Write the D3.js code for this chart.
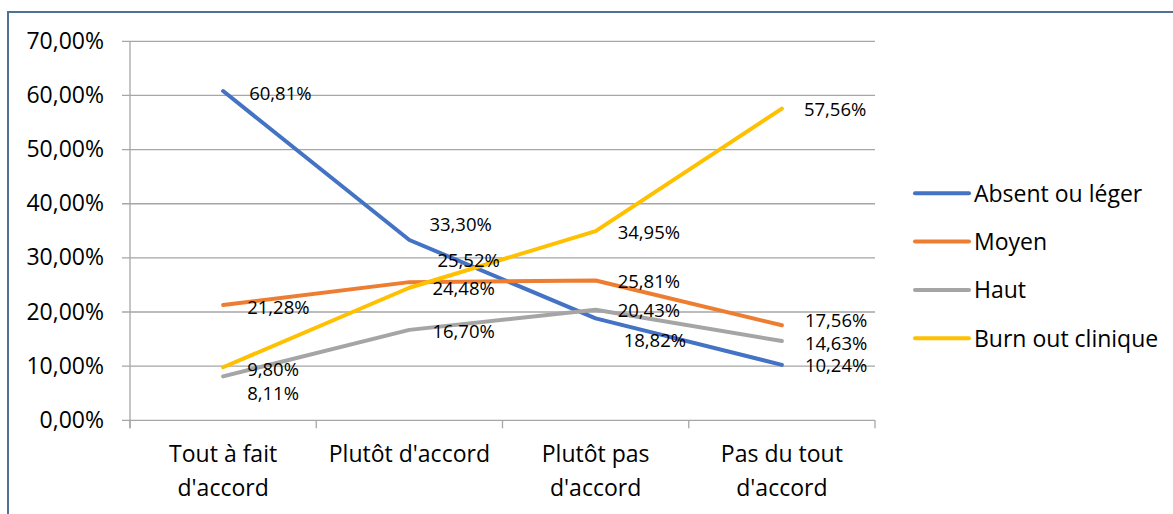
<!DOCTYPE html>
<html>
<head>
<meta charset="utf-8">
<script src="https://cdn.jsdelivr.net/npm/d3@7/dist/d3.min.js"></script>
<style>
  html, body { margin: 0; padding: 0; background: #fff; }
  svg { display: block; }
  text { font-family: "Open Sans", "Noto Sans", sans-serif; fill: #000; }
</style>
</head>
<body>
<svg id="chart" width="1173" height="514"></svg>
<script>
// ---- data ----
const categories = ["Tout à fait\nd'accord", "Plutôt d'accord", "Plutôt pas\nd'accord", "Pas du tout\nd'accord"];
const seriesNames = ["Absent ou léger", "Moyen", "Haut", "Burn out clinique"];
const absentValues = [60.81, 33.30, 18.82, 10.24];
const moyenValues  = [21.28, 25.52, 25.81, 17.56];
const hautValues   = [8.11, 16.70, 20.43, 14.63];
const burnValues   = [9.80, 24.48, 34.95, 57.56];
const yTicks = [0, 10, 20, 30, 40, 50, 60, 70];

// ---- styles / label nudges (not data) ----
const colors = ["#4472C4", "#ED7D31", "#A5A5A5", "#FFC000"];
const labelDy = [[2, -16, 22, 1], [2, -22, 1, -5], [17, 2, 1, 2], [2, 1, 1, 1]];
const labelDx = [[26, 20, 28, 23], [24, 28, 22, 23], [24, 23, 22, 23], [24, 23, 22, 22]];

const allValues = [absentValues, moyenValues, hautValues, burnValues];
const series = seriesNames.map((name, i) => ({ name, values: allValues[i], color: colors[i], idx: i }));

const svg = d3.select("#chart");
const fmt = v => v.toFixed(2).replace(".", ",") + "%";

// frame
svg.append("line").attr("x1", 8).attr("x2", 1173).attr("y1", 12).attr("y2", 12)
  .attr("stroke", "#4F7098").attr("stroke-width", 2);
svg.append("line").attr("x1", 8).attr("x2", 8).attr("y1", 11).attr("y2", 514)
  .attr("stroke", "#4F7098").attr("stroke-width", 2);

const plot = { left: 130, right: 875, top: 41.3, bottom: 420.3 };

const x = d3.scaleBand().domain(d3.range(categories.length)).range([plot.left, plot.right]);
const y = d3.scaleLinear().domain([0, 70]).range([plot.bottom, plot.top]);

// gridlines
svg.append("g").selectAll("line").data(yTicks).join("line")
  .attr("x1", plot.left - 8).attr("x2", plot.right)
  .attr("y1", d => y(d)).attr("y2", d => y(d))
  .attr("stroke", "#A6A6A6").attr("stroke-width", 1.3);

// y axis line
svg.append("line").attr("x1", plot.left).attr("x2", plot.left)
  .attr("y1", plot.top).attr("y2", plot.bottom + 8)
  .attr("stroke", "#A6A6A6").attr("stroke-width", 1.3);

// x axis ticks at band boundaries
const xBounds = d3.range(categories.length + 1).map(i => plot.left + i * x.step());
svg.append("g").selectAll("line").data(xBounds).join("line")
  .attr("x1", d => d).attr("x2", d => d)
  .attr("y1", plot.bottom).attr("y2", plot.bottom + 8)
  .attr("stroke", "#A6A6A6").attr("stroke-width", 1.3);

// y labels
svg.append("g").selectAll("text").data(yTicks).join("text")
  .attr("x", 104).attr("y", d => y(d) + 7.5)
  .attr("text-anchor", "end").attr("font-size", 23)
  .text(d => d.toFixed(2).replace(".", ",") + "%");

// x labels
const xl = svg.append("g").selectAll("text").data(categories).join("text")
  .attr("text-anchor", "middle").attr("font-size", 23)
  .attr("x", (d, i) => x(i) + x.bandwidth() / 2);
xl.each(function (d) {
  const lines = d.split("\n");
  const t = d3.select(this);
  lines.forEach((ln, j) => {
    t.append("tspan").attr("x", t.attr("x")).attr("y", 462 + j * 33.5).text(ln);
  });
});

// lines
const line = d3.line().x((d, i) => x(i) + x.bandwidth() / 2).y(d => y(d));
svg.append("g").selectAll("path").data(series).join("path")
  .attr("d", d => line(d.values))
  .attr("fill", "none").attr("stroke", d => d.color)
  .attr("stroke-width", 4).attr("stroke-linejoin", "round").attr("stroke-linecap", "round");

// data labels
series.forEach(s => {
  svg.append("g").selectAll("text").data(s.values).join("text")
    .attr("x", (d, i) => x(i) + x.bandwidth() / 2 + labelDx[s.idx][i])
    .attr("y", (d, i) => y(d) + labelDy[s.idx][i] + 6.5)
    .attr("font-size", 18.5)
    .text(d => fmt(d));
});

// legend
const lg = svg.append("g").selectAll("g").data(series).join("g")
  .attr("transform", (d, i) => `translate(915, ${193.3 + i * 48.3})`);
lg.append("line").attr("x1", 0).attr("x2", 54).attr("y1", 0).attr("y2", 0)
  .attr("stroke", d => d.color).attr("stroke-width", 4).attr("stroke-linecap", "round");
lg.append("text").attr("x", 59).attr("y", 8.5).attr("font-size", 23).text(d => d.name);
</script>
</body>
</html>
